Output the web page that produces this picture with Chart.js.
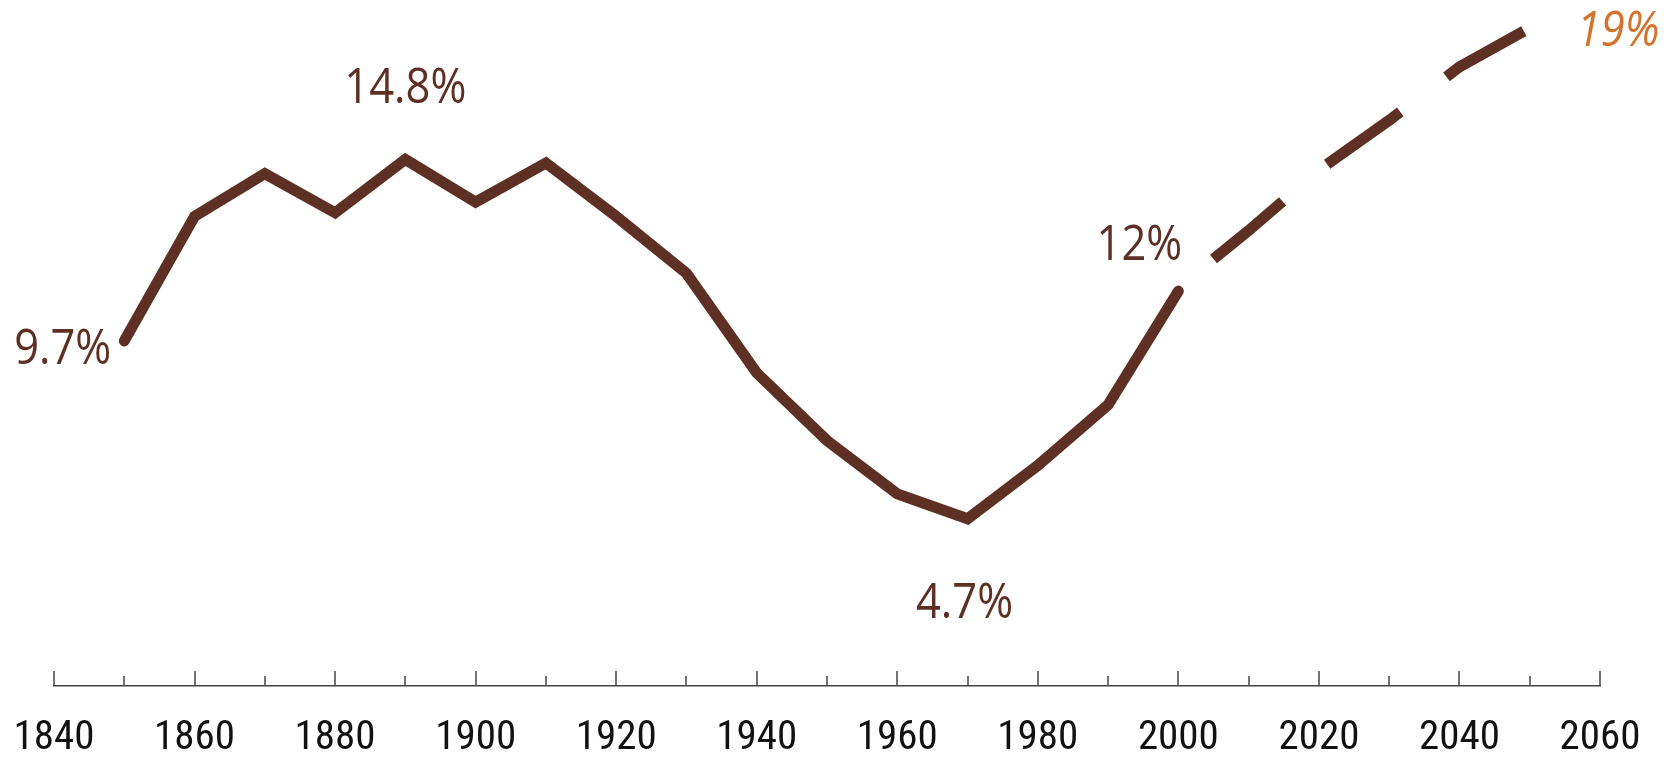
<!DOCTYPE html>
<html>
<head>
<meta charset="utf-8">
<script src="https://cdn.jsdelivr.net/npm/chart.js@4/dist/chart.umd.min.js"></script>
<style>
  html, body { margin: 0; padding: 0; background: #fff; }
  #wrap { width: 1670px; height: 762px; position: relative; }
</style>
</head>
<body>
<div id="wrap"><canvas id="chart"></canvas></div>
<script>
// ── DATA ───────────────────────────────────────────────────────
const histYears  = [1850, 1860, 1870, 1880, 1890, 1900, 1910, 1920, 1930, 1940, 1950, 1960, 1970, 1980, 1990, 2000];
const histValues = [9.7, 13.2, 14.4, 13.3, 14.8, 13.6, 14.7, 13.2, 11.6, 8.8, 6.9, 5.4, 4.7, 6.2, 7.9, 11.1];

const projYears  = [2005, 2010, 2020, 2030, 2040, 2050];
const projValues = [12.0, 12.8, 14.5, 15.9, 17.4, 18.5];

const majorTicks = [1840, 1860, 1880, 1900, 1920, 1940, 1960, 1980, 2000, 2020, 2040, 2060];
const minorTicks = [1850, 1870, 1890, 1910, 1930, 1950, 1970, 1990, 2010, 2030, 2050];

const calloutYears = [1850, 1890, 1970, 2000, 2050];
const calloutText  = ['9.7%', '14.8%', '4.7%', '12%', '19%'];

// ── STYLE ──────────────────────────────────────────────────────
const BROWN  = '#5e3024';
const ORANGE = '#d4742c';

// where each callout sits relative to its point (px), and how it looks
const calloutPlace = [
  { dx: -13, dy: 23,  align: 'right',  color: BROWN,  italic: false },
  { dx: 0,   dy: -56, align: 'center', color: BROWN,  italic: false },
  { dx: -3,  dy: 99,  align: 'center', color: BROWN,  italic: false },
  { dx: -39, dy: -31, align: 'center', color: BROWN,  italic: false },
  { dx: 47,  dy: 18,  align: 'left',   color: ORANGE, italic: true  },
];

const toXY = (xs, ys) => xs.map((x, i) => ({ x, y: ys[i] }));

// ── PLUGINS ────────────────────────────────────────────────────
// tick marks pointing up from the axis line, long on 20s, short on 10s
const upTicks = {
  id: 'upTicks',
  afterDraw(chart) {
    const { ctx, scales: { x }, chartArea } = chart;
    ctx.save();
    ctx.strokeStyle = '#444';
    ctx.lineWidth = 1.5;
    const draw = (yr, len) => {
      const px = Math.round(x.getPixelForValue(yr));
      ctx.beginPath();
      ctx.moveTo(px, chartArea.bottom);
      ctx.lineTo(px, chartArea.bottom - len);
      ctx.stroke();
    };
    majorTicks.forEach(yr => draw(yr, 15));
    minorTicks.forEach(yr => draw(yr, 10));
    ctx.restore();
  },
};

// value callouts next to the key points
const callouts = {
  id: 'callouts',
  afterDatasetsDraw(chart) {
    const { ctx, scales: { x, y } } = chart;
    calloutYears.forEach((yr, i) => {
      const p = calloutPlace[i];
      let v = histValues[histYears.indexOf(yr)];
      if (v === undefined) v = projValues[projYears.indexOf(yr)];
      const px = x.getPixelForValue(yr) + p.dx;
      const py = y.getPixelForValue(v) + p.dy;
      ctx.save();
      ctx.translate(px, py);
      ctx.scale(0.87, 1);
      ctx.font = (p.italic ? 'italic ' : '') + '50px "Open Sans", "Noto Sans", sans-serif';
      ctx.fillStyle = p.color;
      ctx.textAlign = p.align;
      ctx.textBaseline = 'alphabetic';
      ctx.fillText(calloutText[i], 0, 0);
      ctx.restore();
    });
  },
};

// ── CHART ──────────────────────────────────────────────────────
new Chart(document.getElementById('chart'), {
  type: 'line',
  data: {
    datasets: [
      {
        data: toXY(histYears, histValues),
        borderColor: BROWN,
        borderWidth: 11,
        borderCapStyle: 'round',
        borderJoinStyle: 'miter',
        pointRadius: 0,
        tension: 0,
      },
      {
        data: toXY(projYears, projValues),
        borderColor: BROWN,
        borderWidth: 11,
        borderCapStyle: 'butt',
        borderJoinStyle: 'miter',
        borderDash: [90, 58],
        pointRadius: 0,
        tension: 0,
      },
    ],
  },
  options: {
    responsive: true,
    maintainAspectRatio: false,
    animation: false,
    layout: { padding: { left: 54, right: 70, top: 10, bottom: 0 } },
    plugins: { legend: { display: false }, tooltip: { enabled: false } },
    scales: {
      x: {
        type: 'linear',
        min: 1840, max: 2060,
        afterBuildTicks: s => { s.ticks = majorTicks.map(v => ({ value: v })); },
        // fixed axis band so the plot keeps its height; labels may overhang the sides
        afterFit: s => {
          s.height = 76;
          s.paddingLeft = 0; s.paddingRight = 0;
          s.paddingTop = 0; s.paddingBottom = 0;
        },
        grid: { display: false, drawTicks: false },
        border: { display: true, color: '#444', width: 1.5 },
        ticks: {
          autoSkip: false, maxRotation: 0, padding: 28,
          color: '#111',
          font: { size: 41, family: '"Liberation Sans Narrow", "Roboto Condensed", "DejaVu Sans Condensed", sans-serif', lineHeight: 1.2 },
          callback: v => String(v),
        },
      },
      y: { display: false, min: 0, max: 19 },
    },
  },
  plugins: [upTicks, callouts],
});
</script>
</body>
</html>
